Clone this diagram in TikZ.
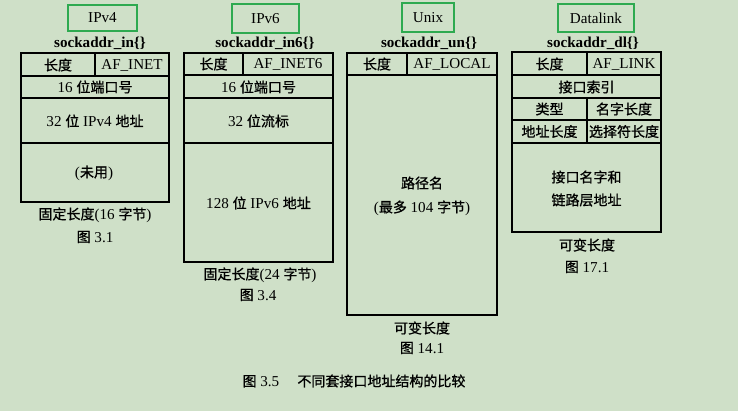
\documentclass[tikz,border=0pt]{standalone}
\usepackage{fontspec}
\usepackage{xcolor}
\setmainfont{Liberation Serif}[Scale=1.08]
\newfontfamily\cjk{Noto Sans CJK SC}[FakeBold=0.8]
\newcommand{\zh}[1]{{\cjk #1}}
\definecolor{pagebg}{RGB}{207,224,200}
\definecolor{tagline}{RGB}{46,170,80}

\begin{document}
\begin{tikzpicture}[x=0.75pt,y=0.75pt,yscale=-1,xscale=1,
  txt/.style={inner sep=0.75pt, font=\fontsize{10.5}{12}\selectfont},
  sname/.style={inner sep=0.75pt, font=\fontsize{10.5}{12}\selectfont\bfseries},
  cell/.style={draw=black, line width=0.9pt},
  tagbox/.style={draw=tagline, line width=1.5pt}]

%Background
\path[fill=pagebg] (0,0) rectangle (738,411);

%Shape: IPv4 struct
\draw[tagbox] (68,5) rectangle (137,31);
\node[txt] (tag4) at (102.5,18) {IPv4};
\node[sname] (sin) at (100,43) {sockaddr\_in\{\}};
\draw[cell] (21,53) rectangle (169,202);
\draw[cell] (21,76) -- (169,76);
\draw[cell] (21,98) -- (169,98);
\draw[cell] (21,143) -- (169,143);
\draw[cell] (95,53) -- (95,76);
% Text Node
\node[txt] (len4) at (58,65) {\zh{长度}};
\node[txt] (fam4) at (132,65) {AF\_INET};
\node[txt] (port4) at (95,87) {16 \zh{位端口号}};
\node[txt] (addr4) at (95,121) {32 \zh{位} IPv4 \zh{地址}};
\node[txt] (zero4) at (94,173) {(\zh{未用})};
\node[txt] (size4) at (95,215) {\zh{固定长度}(16 \zh{字节})};
\node[txt] (fig4) at (95,237) {\zh{图} 3.1};

%Shape: IPv6 struct
\draw[tagbox] (232,4) rectangle (299,33);
\node[txt] (tag6) at (265.5,18.5) {IPv6};
\node[sname] (sin6) at (265,43) {sockaddr\_in6\{\}};
\draw[cell] (184,53) rectangle (333,262);
\draw[cell] (184,75) -- (333,75);
\draw[cell] (184,98) -- (333,98);
\draw[cell] (184,143) -- (333,143);
\draw[cell] (243,53) -- (243,75);
% Text Node
\node[txt] (len6) at (213.5,64) {\zh{长度}};
\node[txt] (fam6) at (288,64) {AF\_INET6};
\node[txt] (port6) at (258.5,87) {16 \zh{位端口号}};
\node[txt] (flow6) at (258.5,121) {32 \zh{位流标}};
\node[txt] (addr6) at (258.5,203) {128 \zh{位} IPv6 \zh{地址}};
\node[txt] (size6) at (260,275) {\zh{固定长度}(24 \zh{字节})};
\node[txt] (fig6) at (258,295) {\zh{图} 3.4};

%Shape: Unix struct
\draw[tagbox] (402,3) rectangle (454,32);
\node[txt] (tagun) at (428,17.5) {Unix};
\node[sname] (sun) at (429,43) {sockaddr\_un\{\}};
\draw[cell] (347,53) rectangle (497,315);
\draw[cell] (347,75) -- (497,75);
\draw[cell] (407,53) -- (407,75);
% Text Node
\node[txt] (lenun) at (377,64) {\zh{长度}};
\node[txt] (famun) at (452,64) {AF\_LOCAL};
\node[txt] (path) at (422,183) {\zh{路径名}};
\node[txt] (pathmax) at (422,208) {(\zh{最多} 104 \zh{字节})};
\node[txt] (sizeun) at (422,328) {\zh{可变长度}};
\node[txt] (figun) at (422,348) {\zh{图} 14.1};

%Shape: Datalink struct
\draw[tagbox] (558,4) rectangle (634,32);
\node[txt] (tagdl) at (596,18) {Datalink};
\node[sname] (sdl) at (593,43) {sockaddr\_dl\{\}};
\draw[cell] (512,52) rectangle (661,232);
\draw[cell] (512,75) -- (661,75);
\draw[cell] (512,98) -- (661,98);
\draw[cell] (512,120) -- (661,120);
\draw[cell] (512,143) -- (661,143);
\draw[cell] (587,52) -- (587,75);
\draw[cell] (587,98) -- (587,143);
% Text Node
\node[txt] (lendl) at (549.5,64) {\zh{长度}};
\node[txt] (famdl) at (624,64) {AF\_LINK};
\node[txt] (index) at (586.5,87) {\zh{接口索引}};
\node[txt] (type) at (549.5,109) {\zh{类型}};
\node[txt] (nlen) at (624,109) {\zh{名字长度}};
\node[txt] (alen) at (549.5,131.5) {\zh{地址长度}};
\node[txt] (slen) at (624,131.5) {\zh{选择符长度}};
\node[txt] (ifname) at (586.5,177) {\zh{接口名字和}};
\node[txt] (lladdr) at (586.5,200) {\zh{链路层地址}};
\node[txt] (sizedl) at (587,245) {\zh{可变长度}};
\node[txt] (figdl) at (587,267) {\zh{图} 17.1};

% Text Node
\node[txt] (caption) at (354,381) {\zh{图} 3.5\hspace{1.2em}\zh{不同套接口地址结构的比较}};
\end{tikzpicture}
\end{document}
